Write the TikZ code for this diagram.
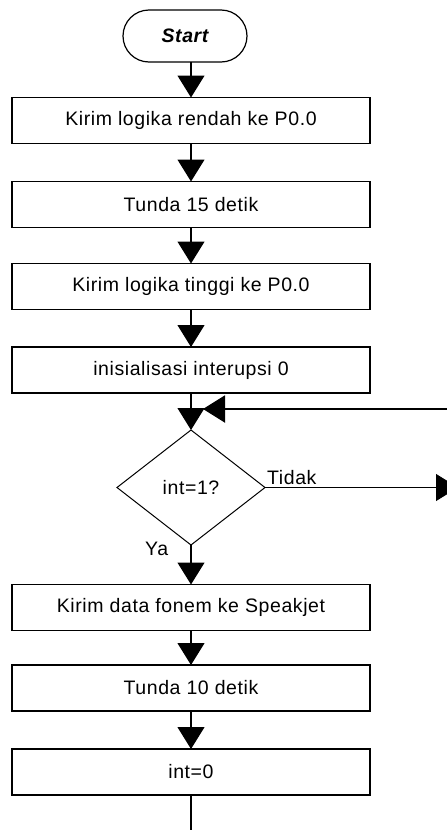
\documentclass[tikz,border=0pt]{standalone}
\usepackage{fontspec}
\setmainfont{Liberation Sans}[LetterSpace=3]
\usetikzlibrary{arrows.meta,shapes.geometric,shapes.misc}
\begin{document}
\begin{tikzpicture}[x=1pt,y=-1pt,
  box/.style={draw, line width=1.2pt, minimum width=358pt, minimum height=46pt, inner sep=0pt, outer sep=0pt, font=\fontsize{19.5}{22}\selectfont},
  arr/.style={-{Triangle[width=27pt,length=22pt]}, line width=1.2pt},
  lbl/.style={font=\fontsize{19.5}{22}\selectfont, inner sep=0pt}
 ]
\useasboundingbox (0,0) rectangle (447,830);
\node[draw, rounded rectangle, line width=1.2pt, minimum width=124pt, minimum height=52pt, inner sep=0pt, outer sep=0pt, font=\fontsize{19.5}{22}\selectfont\bfseries\itshape] (start) at (185,36) {Start};
\node[box] (b1) at (191,120.5) {Kirim logika rendah ke P0.0};
\node[box] (b2) at (191,204.5) {Tunda 15 detik};
\node[box] (b3) at (191,286.5) {Kirim logika tinggi ke P0.0};
\node[box] (b4) at (191,370) {inisialisasi interupsi 0};
\node[draw, diamond, line width=1pt, minimum width=148pt, minimum height=115pt, inner sep=0pt, outer sep=0pt, font=\fontsize{19.5}{22}\selectfont] (dec) at (191,487.5) {int=1?};
\node[box] (b5) at (191,607.5) {Kirim data fonem ke Speakjet};
\node[box] (b6) at (191,688) {Tunda 10 detik};
\node[box] (b7) at (191,772) {int=0};
\coordinate (loopR) at (448,409);
\coordinate (mergetip) at (203,409);
\coordinate (tidakend) at (458,487.5);
\coordinate (endpt) at (191,832);
\draw[arr] (start.south -| b1.north) -- (b1.north);
\draw[arr] (b1) -- (b2);
\draw[arr] (b2) -- (b3);
\draw[arr] (b3) -- (b4);
\draw[arr] (b4) -- (dec.north);
\draw[arr, line width=2pt] (loopR) -- (mergetip);
\draw[arr, line width=0.9pt] (dec.east) -- (tidakend);
\draw[arr] (dec.south) -- (b5.north);
\draw[arr] (b5) -- (b6);
\draw[arr] (b6) -- (b7);
\draw[line width=1.2pt] (b7.south) -- (endpt);
\node[lbl, anchor=south west] (tidak) at (267,485) {Tidak};
\node[lbl, anchor=north west] (ya) at (145,542) {Ya};
\end{tikzpicture}
\end{document}
